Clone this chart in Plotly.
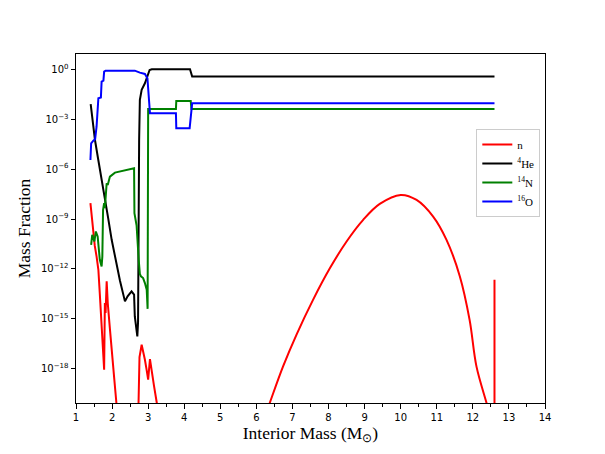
import numpy as np
import plotly.graph_objects as go

# ---- data (interior mass in M_sun, log10 of mass fraction) ----
# neutrons: inner part
n_mass_inner = [1.40, 1.44, 1.48, 1.52, 1.57, 1.62, 1.66, 1.71, 1.75, 1.78, 1.80, 1.82, 1.85, 1.88,
                1.94, 1.99, 2.06, 2.12, 2.20, 2.71, 2.73, 2.76, 2.82, 2.87, 2.91, 2.96, 3.00, 3.05,
                3.09, 3.16, 3.24, 3.30]
n_log_inner = [-8.05, -8.95, -10.05, -10.6, -11.25, -12.05, -13.5, -15.26, -16.9, -18.06, -14.05,
               -14.65, -12.75, -14.05, -15.6, -17.06, -18.6, -20.06, -21.9, -22.5, -20.06, -17.3,
               -16.56, -17.0, -17.46, -18.1, -18.66, -17.42, -18.06, -19.0, -20.06, -21.0]
# neutrons: outer hump
n_mass_hump = [6.20, 6.37, 6.74, 7.11, 7.57, 8.04, 8.50, 8.96, 9.42, 10.0, 10.44, 10.90, 11.27,
               11.64, 11.91, 12.10, 12.38, 12.50]
n_log_hump = [-21.1, -20.06, -17.86, -15.96, -13.86, -11.95, -10.35, -9.05, -8.09, -7.55, -7.85,
              -8.85, -10.25, -12.45, -15.06, -17.86, -20.06, -21.0]
# neutrons: surface spike
n_mass_spike = [12.60, 12.60]
n_log_spike = [-22.0, -12.65]

he_mass = [1.407, 1.526, 1.609, 1.693, 1.803, 1.886, 1.989, 2.108, 2.219, 2.357, 2.43, 2.54, 2.61,
           2.63, 2.67, 2.70, 2.72, 2.73, 2.75, 2.77, 2.82, 2.91, 2.98, 3.04, 3.10, 3.79, 3.82,
           4.12, 4.16, 4.22, 12.60]
he_log = [-2.10, -4.25, -5.33, -6.35, -7.85, -8.87, -10.25, -11.57, -12.71, -13.95, -13.65, -13.35,
          -13.55, -14.86, -15.6, -16.06, -15.2, -8.0, -4.25, -1.84, -1.24, -0.84, -0.44, -0.04,
          0.0, 0.0, 0.03, 0.03, 0.0, -0.44, -0.44]

n14_mass = [1.42, 1.45, 1.51, 1.55, 1.60, 1.64, 1.66, 1.71, 1.73, 1.75, 1.78, 1.80, 1.82, 1.85,
            1.88, 1.94, 2.08, 2.36, 2.61, 2.62, 2.68, 2.74, 2.77, 2.80, 2.86, 2.91, 2.96, 2.985,
            3.00, 3.77, 3.78, 4.18, 4.20, 12.60]
n14_log = [-10.55, -9.95, -10.35, -9.75, -10.05, -11.05, -11.45, -11.85, -11.25, -8.45, -8.05,
           -8.35, -7.45, -6.85, -6.95, -6.45, -6.21, -6.05, -5.95, -8.65, -9.4, -11.5, -12.3,
           -12.45, -12.55, -12.85, -13.25, -14.4, -2.38, -2.38, -1.90, -1.90, -2.38, -2.38]

o16_mass = [1.40, 1.42, 1.48, 1.53, 1.57, 1.60, 1.62, 1.69, 1.71, 1.76, 1.78, 1.82, 2.63, 2.77,
            2.91, 2.98, 3.00, 3.03, 3.05, 3.77, 3.78, 4.15, 4.20, 4.22, 12.60]
o16_log = [-5.45, -4.45, -4.29, -4.2, -3.45, -1.84, -1.74, -1.7, -0.74, -0.68, -0.14, -0.08, -0.08,
           -0.2, -0.28, -0.54, -1.04, -2.04, -2.64, -2.64, -3.54, -3.54, -2.04, -2.04, -2.04]

species_names = ["n", "<sup>4</sup>He", "<sup>14</sup>N", "<sup>16</sup>O"]
species_colors = ["#ff0000", "#000000", "#008000", "#0000ff"]

x_ticks = list(range(1, 15))
y_tick_exps = [0, -3, -6, -9, -12, -15, -18]


def frac(logs):
    return np.power(10.0, np.array(logs, dtype=float))


fig = go.Figure()
lw = 2

# neutrons (three pieces, one legend entry)
fig.add_trace(go.Scatter(x=n_mass_inner, y=frac(n_log_inner), mode="lines", name=species_names[0],
                         legendgroup="n", line=dict(color=species_colors[0], width=lw)))
fig.add_trace(go.Scatter(x=n_mass_hump, y=frac(n_log_hump), mode="lines", legendgroup="n",
                         showlegend=False,
                         line=dict(color=species_colors[0], width=lw, shape="spline", smoothing=1.0)))
fig.add_trace(go.Scatter(x=n_mass_spike, y=frac(n_log_spike), mode="lines", legendgroup="n",
                         showlegend=False, line=dict(color=species_colors[0], width=lw)))

fig.add_trace(go.Scatter(x=he_mass, y=frac(he_log), mode="lines", name=species_names[1],
                         line=dict(color=species_colors[1], width=lw)))
fig.add_trace(go.Scatter(x=n14_mass, y=frac(n14_log), mode="lines", name=species_names[2],
                         line=dict(color=species_colors[2], width=lw)))
fig.add_trace(go.Scatter(x=o16_mass, y=frac(o16_log), mode="lines", name=species_names[3],
                         line=dict(color=species_colors[3], width=lw)))

serif = "Liberation Serif, Times New Roman, serif"

# the page puts the figure 8 px in from the top-left corner, so the figure is
# sized and margined to land the plot area where the reference has it
fig.update_layout(
    width=597, height=446, autosize=False,
    margin=dict(l=68, r=60, t=46, b=51),
    plot_bgcolor="white", paper_bgcolor="white",
    font=dict(family="DejaVu Sans", size=10, color="black"),
    legend=dict(x=0.99, xanchor="right", y=0.785, yanchor="top",
                bgcolor="rgba(255,255,255,0.8)", bordercolor="#cccccc", borderwidth=1,
                font=dict(family=serif, size=11, color="black"), itemwidth=30,
                tracegroupgap=0),
    xaxis=dict(range=[1, 14], tickvals=x_ticks, ticktext=[str(v) for v in x_ticks],
               ticks="outside", ticklen=4.5, tickwidth=1, tickcolor="black",
               showline=True, linecolor="black", linewidth=1, mirror=True,
               showgrid=False, zeroline=False,
               minor=dict(dtick=0.5, tick0=0, ticks="outside", ticklen=2.5, tickwidth=0.8,
                          tickcolor="black", showgrid=False),
               title=dict(text="Interior Mass (M<sub>⊙</sub>)", standoff=1,
                          font=dict(family=serif, size=17.5, color="black"))),
    yaxis=dict(type="log", range=[-20.06, 0.92],
               tickvals=[10.0 ** e for e in y_tick_exps],
               ticktext=["10<sup>%s</sup>" % (str(e).replace("-", "−")) for e in y_tick_exps],
               ticks="outside", ticklen=4.5, tickwidth=1, tickcolor="black",
               showline=True, linecolor="black", linewidth=1, mirror=True,
               showgrid=False, zeroline=False,
               title=dict(text="Mass Fraction", standoff=5,
                          font=dict(family=serif, size=17.5, color="black"))),
)

fig.write_html("out.html")
